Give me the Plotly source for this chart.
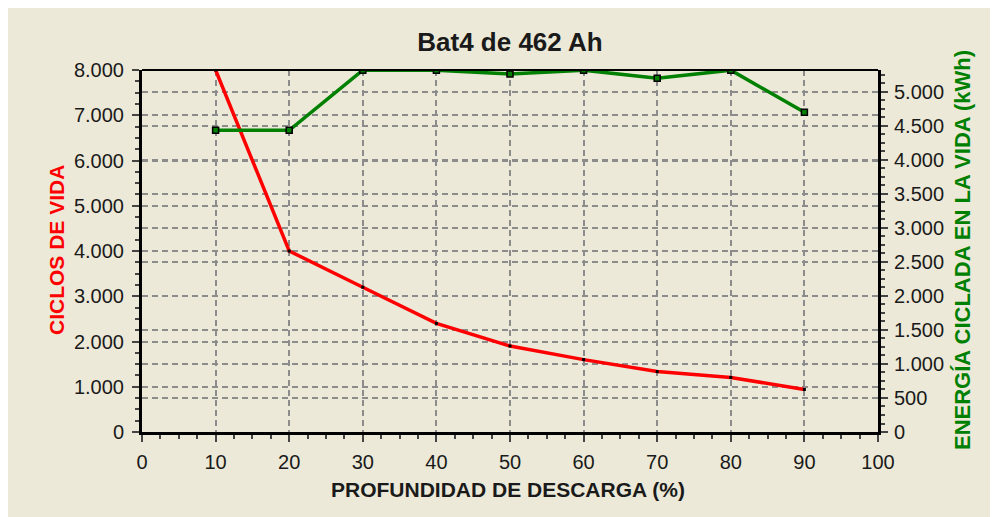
import plotly.graph_objects as go

# ---- data ----
dod = [10, 20, 30, 40, 50, 60, 70, 80, 90]                        # PROFUNDIDAD DE DESCARGA (%)
ciclos = [8000, 4000, 3200, 2400, 1900, 1600, 1335, 1205, 940]     # CICLOS DE VIDA
energia = [4435, 4435, 5320, 5320, 5265, 5320, 5200, 5320, 4700]   # ENERGÍA CICLADA (kWh)

title_text = "Bat4 de 462 Ah"
x_title = "PROFUNDIDAD DE DESCARGA (%)"
y1_title = "CICLOS DE VIDA"
y2_title = "ENERGÍA CICLADA EN LA VIDA (kWh)"

BG = "#ECE9D8"
GRID = "#8c8c8c"
TXT = "#1a1a1a"
FONT = "Liberation Sans"

# page offset of the figure (body margin) and plot-area geometry in page px
OFF = 8
PL, PR, PT, PB = 142, 878, 70, 432
PW, PH = PR - PL, PB - PT

def px_x(p):
    return (p - PL) / PW

def px_y(p):
    return (PB - p) / PH

fig = go.Figure()
fig.add_trace(go.Scatter(
    x=dod, y=ciclos, mode="lines+markers", name="ciclos",
    line=dict(color="#FF0000", width=3.5),
    marker=dict(symbol="square", size=3, color="#000000"),
    yaxis="y", showlegend=False))
fig.add_trace(go.Scatter(
    x=dod, y=energia, mode="lines+markers", name="energia",
    line=dict(color="#008000", width=3.5),
    marker=dict(symbol="square", size=6, color="#008000",
                line=dict(color="#000000", width=1.5)),
    yaxis="y2", showlegend=False))

tickfont = dict(family=FONT, size=20, color=TXT)

W, H = 998 - OFF, 517 - OFF
fig.update_layout(
    width=W, height=H,
    margin=dict(l=PL - OFF, r=W - (PR - OFF), t=PT - OFF, b=H - (PB - OFF)),
    paper_bgcolor=BG,
    plot_bgcolor=BG,
    separators=",.",
    font=dict(family=FONT, color=TXT),
    title=dict(text=f"<b>{title_text}</b>", x=(510 - OFF) / W, xanchor="center",
               y=1 - (42 - OFF) / H, yanchor="middle", yref="container",
               font=dict(family=FONT, size=26, color=TXT)),
    xaxis=dict(
        range=[0, 100], dtick=10, tick0=0,
        showgrid=True, gridcolor=GRID, griddash="6px,4px", gridwidth=2,
        zeroline=False,
        showline=True, linecolor="#000000", linewidth=3,
        ticks="outside", ticklen=7, tickwidth=2, tickcolor="#444444",
        minor=dict(dtick=2.5, ticks="outside", ticklen=4, tickwidth=1.5,
                   tickcolor="#444444", showgrid=False),
        tickfont=tickfont, ticklabelstandoff=3,
    ),
    yaxis=dict(
        range=[0, 8000], dtick=1000, tick0=0, tickformat=",d",
        showgrid=True, gridcolor=GRID, griddash="6px,4px", gridwidth=2,
        zeroline=False,
        showline=True, linecolor="#000000", linewidth=3,
        ticks="outside", ticklen=7, tickwidth=2, tickcolor="#444444",
        minor=dict(dtick=250, ticks="outside", ticklen=4, tickwidth=1.5,
                   tickcolor="#444444", showgrid=False),
        tickfont=tickfont, ticklabelstandoff=4,
    ),
    yaxis2=dict(
        overlaying="y", side="right",
        range=[0, 5322], dtick=500, tick0=0, tickformat=",d",
        showgrid=True, gridcolor=GRID, griddash="6px,4px", gridwidth=2,
        zeroline=False,
        showline=True, linecolor="#000000", linewidth=3,
        ticks="outside", ticklen=7, tickwidth=2, tickcolor="#444444",
        minor=dict(dtick=125, ticks="outside", ticklen=4, tickwidth=1.5,
                   tickcolor="#444444", showgrid=False),
        tickfont=tickfont, ticklabelstandoff=2,
    ),
    shapes=[
        dict(type="line", xref="paper", yref="paper",
             x0=0, x1=1, y0=1, y1=1, line=dict(color="#000000", width=2)),
    ],
    annotations=[
        dict(text=f"<b>{x_title}</b>", xref="paper", yref="paper",
             x=px_x(508), y=px_y(489),
             xanchor="center", yanchor="middle", showarrow=False,
             font=dict(family=FONT, size=21, color=TXT)),
        dict(text=f"<b>{y1_title}</b>", xref="paper", yref="paper",
             x=px_x(57), y=px_y(250), textangle=-90,
             xanchor="center", yanchor="middle", showarrow=False,
             font=dict(family=FONT, size=21, color="#FF0000")),
        dict(text=f"<b>{y2_title}</b>", xref="paper", yref="paper",
             x=px_x(963), y=px_y(250), textangle=-90,
             xanchor="center", yanchor="middle", showarrow=False,
             font=dict(family=FONT, size=22, color="#008000")),
    ],
)

fig.write_html("out.html")
